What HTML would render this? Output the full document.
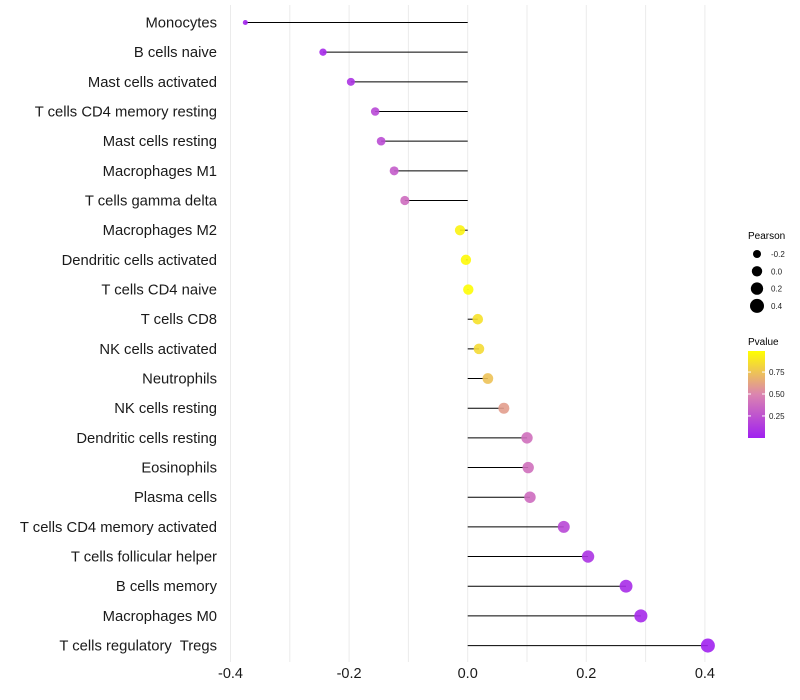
<!DOCTYPE html>
<html><head><meta charset="utf-8"><style>
body{margin:0;background:#fff;}
svg{display:block;font-family:"Liberation Sans",sans-serif;}
text{white-space:pre;}
</style></head><body>
<svg id="chart" width="800" height="700"></svg>
<script>
const categories=["Monocytes","B cells naive","Mast cells activated","T cells CD4 memory resting","Mast cells resting","Macrophages M1","T cells gamma delta","Macrophages M2","Dendritic cells activated","T cells CD4 naive","T cells CD8","NK cells activated","Neutrophils","NK cells resting","Dendritic cells resting","Eosinophils","Plasma cells","T cells CD4 memory activated","T cells follicular helper","B cells memory","Macrophages M0","T cells regulatory  Tregs"];
const pearson=[-0.375,-0.244,-0.197,-0.156,-0.146,-0.124,-0.106,-0.013,-0.003,0.001,0.017,0.019,0.034,0.061,0.100,0.102,0.105,0.162,0.203,0.267,0.292,0.405];
const pvalue=[0.02,0.05,0.1,0.2,0.22,0.3,0.38,0.95,0.98,0.99,0.88,0.85,0.75,0.6,0.4,0.4,0.38,0.2,0.1,0.06,0.05,0.01];
const xTicks=[-0.4,-0.2,0.0,0.2,0.4];
const xTickLabels=["-0.4","-0.2","0.0","0.2","0.4"];
const sizeLegend=[-0.2,0.0,0.2,0.4];
const pTicks=[0.25,0.5,0.75];

const NS="http://www.w3.org/2000/svg";
const svg=document.getElementById('chart');
function mk(t,a,p){const e=document.createElementNS(NS,t);for(const k in a)e.setAttribute(k,a[k]);(p||svg).appendChild(e);return e;}
const x=v=>467.7+v*593;
const y=i=>22.5+i*29.67;
const rad=v=>Math.sqrt(Math.max(3,27+55*v));
function lerp(a,b,t){return a.map((c,i)=>Math.round(c+(b[i]-c)*t));}
function col(p){const s0=[160,32,240],s1=[219,132,176],s2=[255,255,0];const c=p<0.5?lerp(s0,s1,p/0.5):lerp(s1,s2,(p-0.5)/0.5);return `rgb(${c.join(',')})`;}

for(let v=-0.4;v<=0.401;v+=0.1){const g=mk('line',{x1:x(v),x2:x(v),y1:5,y2:662,stroke:'#ebebeb','stroke-width':1});

}
xTicks.forEach((v,i)=>{const t=mk('text',{x:x(v),y:678,'text-anchor':'middle','font-size':14.5,fill:'#1a1a1a'});t.textContent=xTickLabels[i];

});
categories.forEach((c,i)=>{
const t=mk('text',{x:217,y:y(i)+5,'text-anchor':'end','font-size':14.8,fill:'#1a1a1a'});t.textContent=c;


const l=mk('line',{x1:x(0),x2:x(pearson[i]),y1:y(i),y2:y(i),stroke:'#000','stroke-width':1});


const d=mk('circle',{cx:x(pearson[i]),cy:y(i),r:rad(pearson[i]),fill:col(pvalue[i]),'fill-opacity':0.9});


});
const lt=mk('text',{x:748,y:239,'font-size':10,fill:'#000'});lt.textContent='Pearson';


sizeLegend.forEach((v,i)=>{const cy=254+i*17.3;
const c=mk('circle',{cx:757,cy:cy,r:rad(v),fill:'#000'});


const t=mk('text',{x:771,y:cy+3,'font-size':8,fill:'#222'});t.textContent=v.toFixed(1);

});
const ct=mk('text',{x:748,y:345,'font-size':10,fill:'#000'});ct.textContent='Pvalue';


const defs=mk('defs',{});const gr=mk('linearGradient',{id:'pg',x1:0,y1:1,x2:0,y2:0},defs);
[0,0.5,1].forEach(o=>mk('stop',{offset:o,'stop-color':col(o)},gr));
const bar=mk('rect',{x:748,y:351,width:17,height:87,fill:'url(#pg)'});


const py=p=>437-(p-0.01)/0.98*86;
pTicks.forEach(p=>{
mk('line',{x1:748,x2:751,y1:py(p),y2:py(p),stroke:'#fff'});mk('line',{x1:762,x2:765,y1:py(p),y2:py(p),stroke:'#fff'});
const t=mk('text',{x:769,y:py(p)+3,'font-size':8,fill:'#222'});t.textContent=p.toFixed(2);

});
</script>
</body></html>
